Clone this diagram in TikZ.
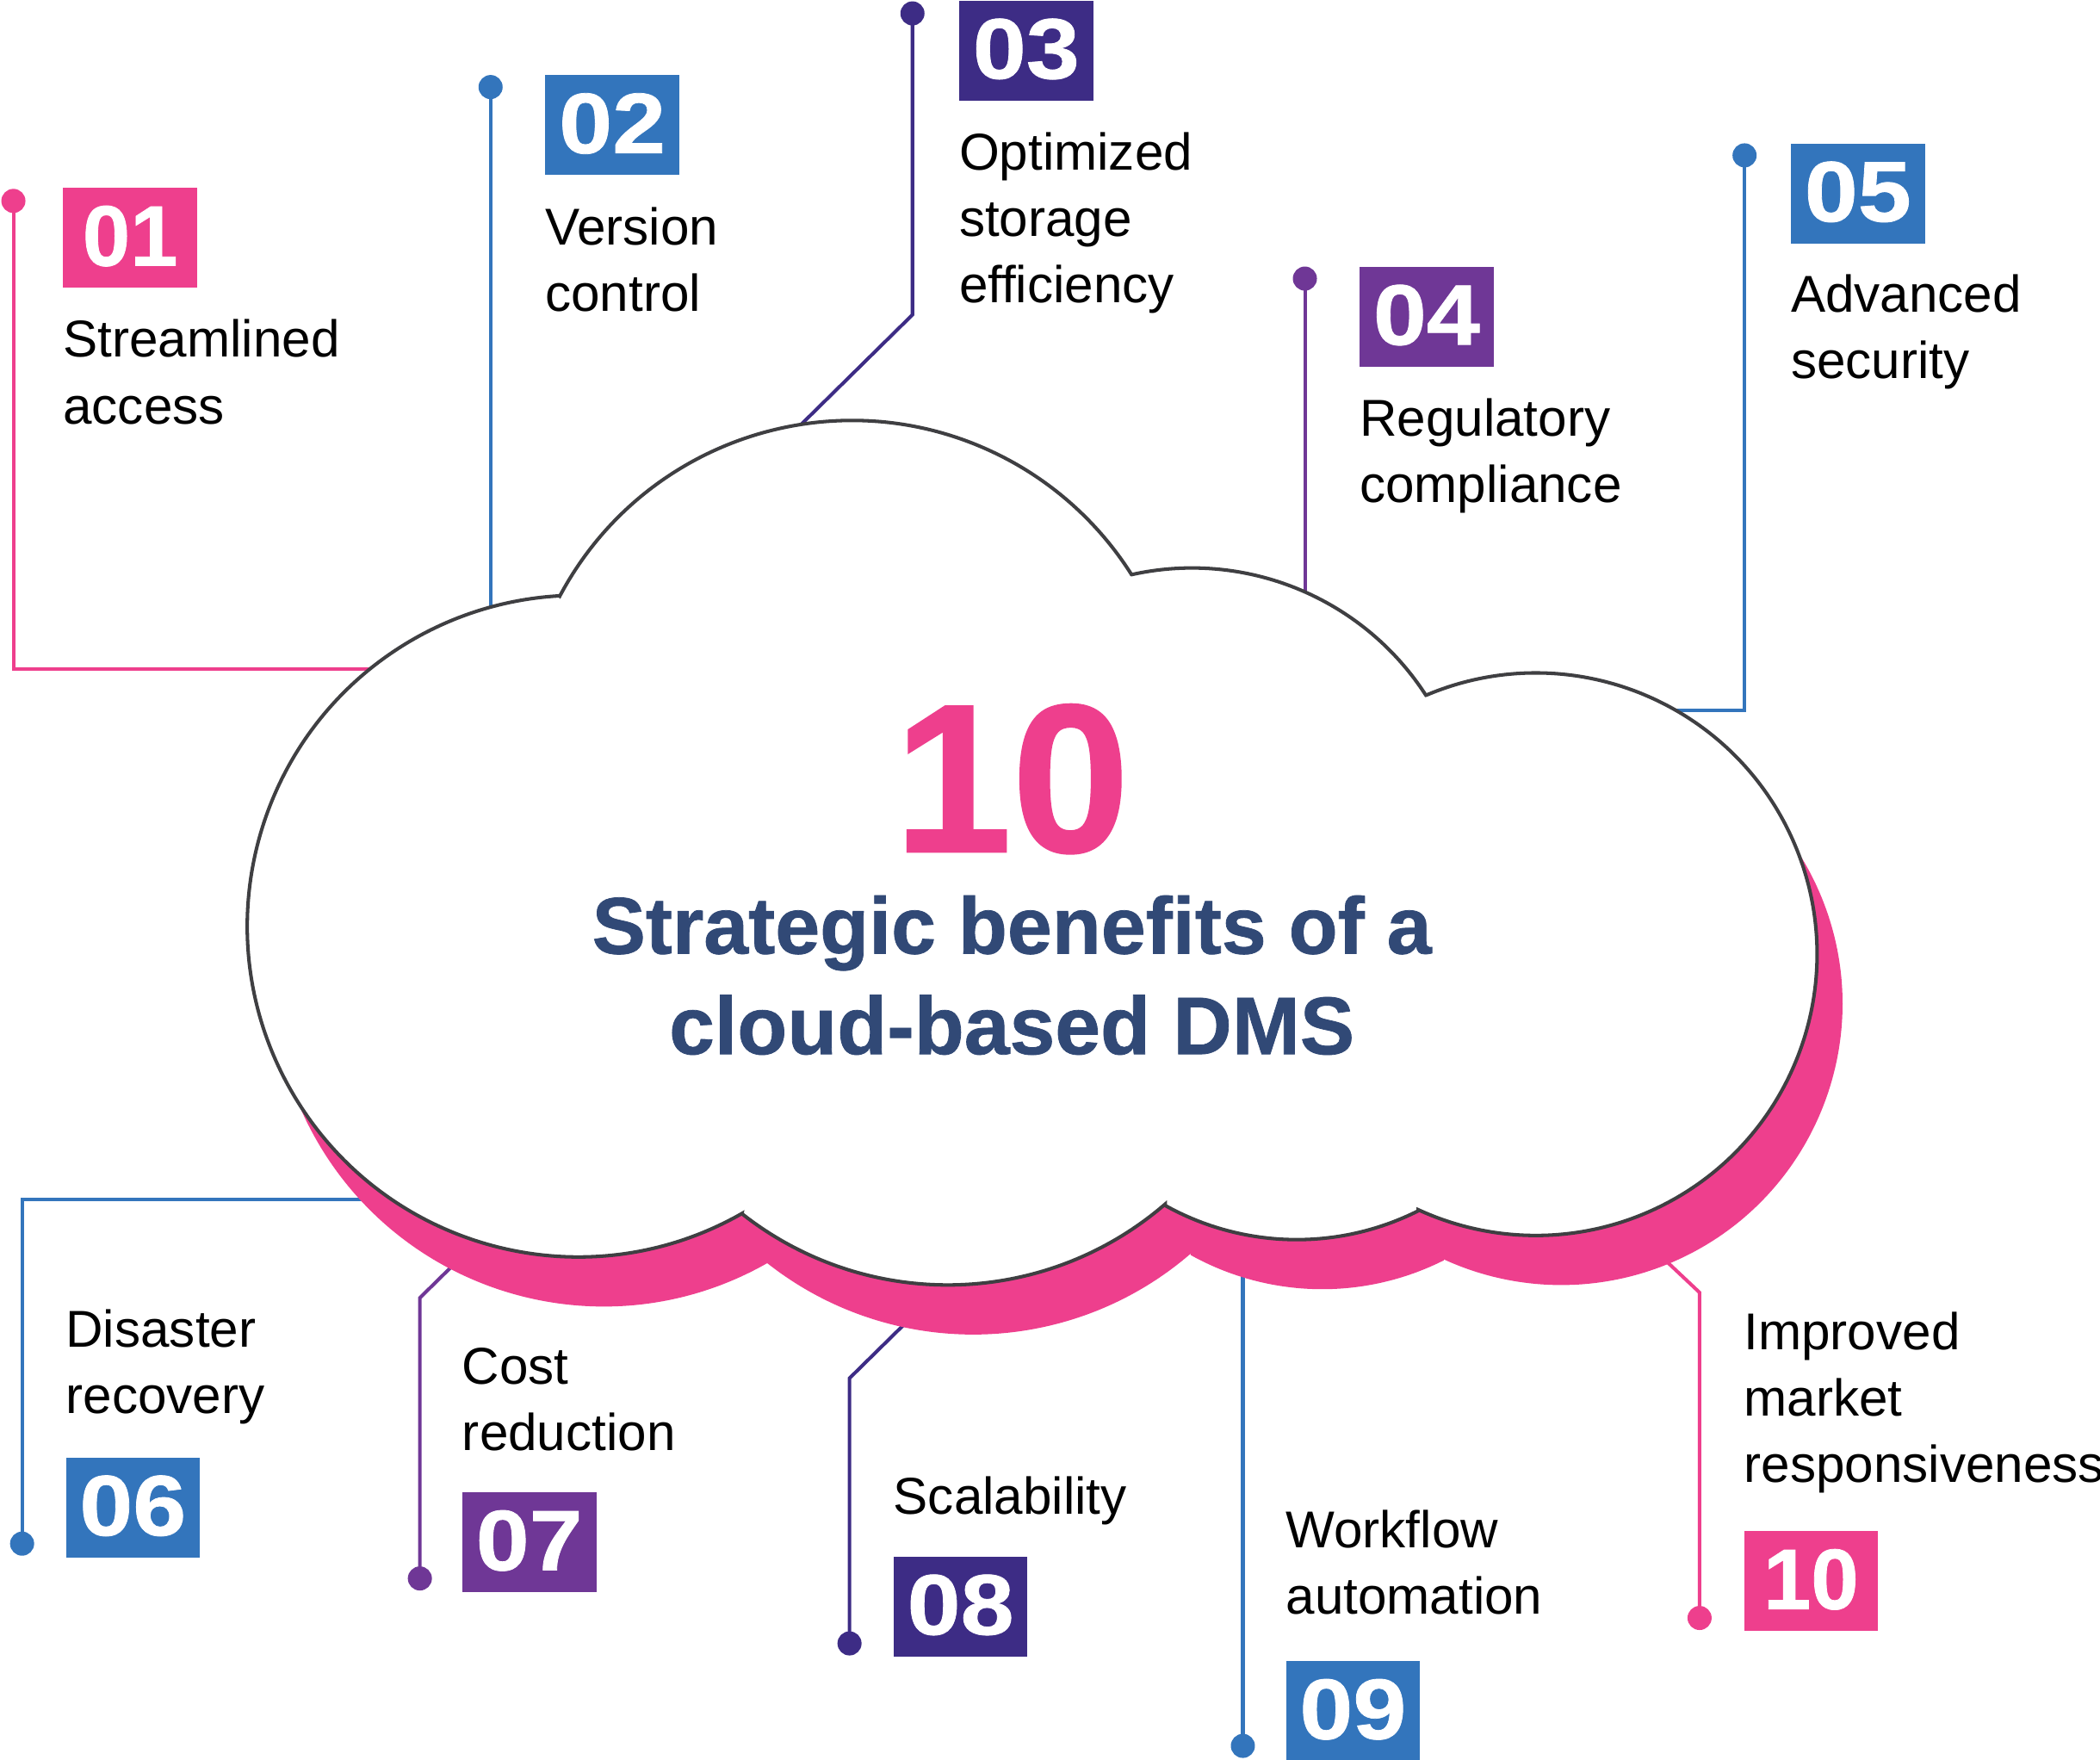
\documentclass[tikz,border=0pt]{standalone}
\usepackage{fontspec}
\setmainfont{Liberation Sans}
\newfontfamily\heavyface{Liberation Sans Bold}[FakeBold=0.8]
\newfontfamily\wideface{Liberation Sans Bold}[FakeBold=0.8,FakeStretch=1.12]
\definecolor{cpink}{HTML}{EE3F8D}
\definecolor{cnavy}{HTML}{314976}
\definecolor{cblue}{HTML}{3375BC}
\definecolor{cpurple}{HTML}{6F3796}
\definecolor{cindigo}{HTML}{3D2C85}
\definecolor{cedge}{HTML}{3F3F42}
\tikzset{
  badge/.style={anchor=north west,inner sep=0pt,minimum width=100pt,minimum height=74.5pt,text=white,text depth=3pt,
    font=\fontsize{64}{64}\selectfont\wideface},
  narrowbadge/.style={badge,font=\fontsize{64}{64}\selectfont\heavyface},
  label/.style={anchor=north west,inner sep=0pt,align=left,text=black,font=\fontsize{38.7}{49.6}\selectfont},
  pin/.style={circle,inner sep=0pt,minimum size=18pt},
  link/.style={line width=2.6pt,line join=miter},
  cloudedge/.style={draw=cedge,line width=2.6pt,fill=white,line join=miter},
  heading/.style={inner sep=0pt,anchor=base,text=cnavy,font=\fontsize{60}{60}\selectfont\heavyface},
}
\newcommand{\cloudshape}{
  (418,445) arc[start angle=-152,end angle=-32.3,radius=247]
  -- (845,429) arc[start angle=-102.5,end angle=-32.9,radius=208]
  -- (1065,519) arc[start angle=-112.9,end angle=114.7,radius=210]
  -- (1059,904) arc[start angle=63.3,end angle=119.1,radius=202]
  -- (870,899) arc[start angle=49.2,end angle=128.2,radius=248.5]
  -- (554,906) arc[start angle=60.3,end angle=266.8,radius=247]
  -- cycle}
\begin{document}
\begin{tikzpicture}[x=1pt,y=-1pt]
\useasboundingbox (0,0) rectangle (1568,1314);
% pins
\node[pin,fill=cpink]   (d1)  at (10,150) {};
\node[pin,fill=cblue]   (d2)  at (366.3,65) {};
\node[pin,fill=cindigo] (d3)  at (681.3,10) {};
\node[pin,fill=cpurple] (d4)  at (974.3,208) {};
\node[pin,fill=cblue]   (d5)  at (1302.6,116) {};
\node[pin,fill=cblue]   (d6)  at (16.5,1152.5) {};
\node[pin,fill=cpurple] (d7)  at (313.5,1178.5) {};
\node[pin,fill=cindigo] (d8)  at (634.3,1227) {};
\node[pin,fill=cblue]   (d9)  at (928,1303.5) {};
\node[pin,fill=cpink]   (d10) at (1269,1208) {};
% connector ends on the cloud
\coordinate (e1) at (290,499.6);
\coordinate (e2) at (366.3,470);
\coordinate (k3) at (681.3,235);
\coordinate (e3) at (590,325);
\coordinate (e4) at (974.3,460);
\coordinate (e5) at (1240,530.3);
\coordinate (e6) at (285,895.3);
\coordinate (k7) at (313.5,969);
\coordinate (e7) at (345,938);
\coordinate (k8) at (634.3,1029);
\coordinate (e8) at (680,984);
\coordinate (e9) at (928,940);
\coordinate (k10) at (1269,965);
\coordinate (e10) at (1235,933);
% connectors
\draw[link,cpink]   (d1.center) |- (e1);
\draw[link,cblue]   (d2.center) -- (e2);
\draw[link,cindigo] (d3.center) -- (k3) -- (e3);
\draw[link,cpurple] (d4.center) -- (e4);
\draw[link,cblue]   (d5.center) |- (e5);
\draw[link,cblue]   (d6.center) |- (e6);
\draw[link,cpurple] (d7.center) -- (k7) -- (e7);
\draw[link,cindigo] (d8.center) -- (k8) -- (e8);
\draw[link,cblue]   (d9.center) -- (e9);
\draw[link,cpink]   (d10.center) -- (k10) -- (e10);
% cloud
\fill[cpink,shift={(19,37)}] \cloudshape;
\path[cloudedge] \cloudshape;
% centre text
\node[inner sep=0pt,anchor=base,text=cpink,font=\fontsize{158}{158}\selectfont\heavyface] (big) at (755.5,636) {10};
\node[heading] (t1) at (755.5,712) {Strategic benefits of a};
\node[heading,font=\fontsize{61}{61}\selectfont\heavyface] (t2) at (755.5,787) {cloud-based DMS};
% badges
\node[narrowbadge,fill=cpink] (b1)  at (47,140) {01};
\node[badge,fill=cblue]   (b2)  at (407,56) {02};
\node[badge,fill=cindigo] (b3)  at (716,0.3) {03};
\node[badge,fill=cpurple] (b4)  at (1015,199) {04};
\node[badge,fill=cblue]   (b5)  at (1337,107) {05};
\node[badge,fill=cblue]   (b6)  at (49,1088) {06};
\node[badge,fill=cpurple] (b7)  at (345,1114) {07};
\node[badge,fill=cindigo] (b8)  at (667,1162) {08};
\node[badge,fill=cblue]   (b9)  at (960,1240) {09};
\node[narrowbadge,fill=cpink] (b10) at (1302,1143) {10};
% labels
\node[label] (l1)  at (47,238.5) {Streamlined\\access};
\node[label] (l2)  at (407,154.5) {Version\\control};
\node[label] (l3)  at (716,98.5) {Optimized\\storage\\efficiency};
\node[label] (l4)  at (1015,297.5) {Regulatory\\compliance};
\node[label] (l5)  at (1337,204.5) {Advanced\\security};
\node[label] (l6)  at (49,977.5) {Disaster\\recovery};
\node[label] (l7)  at (345,1006) {Cost\\reduction};
\node[label] (l8)  at (667,1102) {Scalability};
\node[label] (l9)  at (960,1127.5) {Workflow\\automation};
\node[label] (l10) at (1302,979.5) {Improved\\market\\responsiveness};
\end{tikzpicture}
\end{document}
